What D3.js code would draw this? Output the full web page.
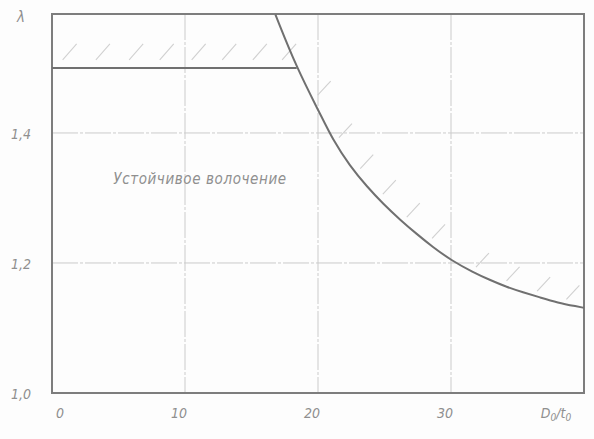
<!DOCTYPE html>
<html>
<head>
<meta charset="utf-8">
<script src="https://cdn.jsdelivr.net/npm/d3@7/dist/d3.min.js"></script>
<style>
  html, body { margin: 0; padding: 0; background: #fdfdfd; }
  svg { display: block; }
  text { font-family: "DejaVu Sans Condensed", "DejaVu Sans", sans-serif; font-style: italic; fill: #8f8f8f; }
</style>
</head>
<body>
<svg id="chart" width="594" height="439"></svg>
<script>
// Drawing limit: ratio D0/t0 against draw ratio λ
const xTicks = [0, 10, 20, 30];
const yTicks = [1.0, 1.2, 1.4];
const yTickLabels = ["1,0", "1,2", "1,4"];
const boundaryX = [16.8, 18.4, 20.15, 21.1, 22.4, 23.7, 24.9, 26.2, 27.4, 28.6, 30.1, 31.65, 32.9, 34.2, 35.4, 36.7, 38.0, 39.5, 40];
const boundaryY = [1.582, 1.5, 1.43, 1.39, 1.349, 1.317, 1.291, 1.266, 1.245, 1.225, 1.203, 1.186, 1.174, 1.163, 1.155, 1.147, 1.139, 1.133, 1.131];
const limitLambda = 1.5;
const limitEndX = 18.4;
const bandHatchX = [0.8, 3.3, 5.8, 8.1, 10.5, 12.8, 15.1, 17.3];
const curveHatchX = [19.6, 21.2, 22.8, 24.5, 26.3, 28.2, 31.5, 33.8, 36.1, 38.3];
const regionLabel = "Устойчивое волочение";

const svg = d3.select("#chart");
const plotLeft = 52, plotRight = 584, plotTop = 14, plotBottom = 393;
const x = d3.scaleLinear().domain([0, 40]).range([plotLeft, plotRight]);
const y = d3.scaleLinear().domain([1.0, 1.583]).range([plotBottom, plotTop]);

// grid
const grid = svg.append("g").attr("stroke", "#cbcbcb").attr("stroke-width", 1).attr("stroke-dasharray", "26,2,3,2");
xTicks.filter(d => d > 0).forEach(d => {
  grid.append("line").attr("x1", x(d)).attr("x2", x(d)).attr("y1", plotTop).attr("y2", plotBottom);
});
yTicks.filter(d => d > 1.0).forEach(d => {
  grid.append("line").attr("x1", plotLeft).attr("x2", plotRight).attr("y1", y(d)).attr("y2", y(d));
});

// hatching in the top band
const hatch = svg.append("g").attr("stroke", "#d0d0d0").attr("stroke-width", 1.1);
bandHatchX.forEach(d => {
  hatch.append("line")
    .attr("x1", x(d)).attr("y1", y(limitLambda) - 8)
    .attr("x2", x(d) + 14).attr("y2", y(limitLambda) - 24);
});

// hatching beyond the boundary curve
const curveY = d3.scaleLinear().domain(boundaryX).range(boundaryY);
curveHatchX.forEach(d => {
  const px = x(d), py = y(curveY(d));
  hatch.append("line")
    .attr("x1", px + 5).attr("y1", py - 4)
    .attr("x2", px + 18).attr("y2", py - 18);
});

// frame
svg.append("rect")
  .attr("x", plotLeft).attr("y", plotTop)
  .attr("width", plotRight - plotLeft).attr("height", plotBottom - plotTop)
  .attr("fill", "none").attr("stroke", "#7d7d7d").attr("stroke-width", 2);

// limit line λ = 1.5
svg.append("line")
  .attr("x1", x(0)).attr("x2", x(limitEndX))
  .attr("y1", y(limitLambda)).attr("y2", y(limitLambda))
  .attr("stroke", "#707070").attr("stroke-width", 2);

// boundary curve
const pts = boundaryX.map((d, i) => [d, boundaryY[i]]);
svg.append("path")
  .datum(pts)
  .attr("d", d3.line().x(d => x(d[0])).y(d => y(d[1])).curve(d3.curveBasis))
  .attr("fill", "none").attr("stroke", "#707070").attr("stroke-width", 2);

// tick labels
xTicks.forEach(d => {
  svg.append("text").attr("x", x(d) + (d === 0 ? 8 : -6)).attr("y", 418)
    .attr("text-anchor", "middle").attr("font-size", 14).text(d);
});
svg.append("text").attr("x", 556).attr("y", 418).attr("text-anchor", "middle")
  .attr("font-size", 14).html("D<tspan font-size='10' dy='3'>0</tspan><tspan dy='-3'>/t</tspan><tspan font-size='10' dy='3'>0</tspan>");

yTicks.forEach((d, i) => {
  svg.append("text").attr("x", 21).attr("y", y(d) + 6)
    .attr("text-anchor", "middle").attr("font-size", 14).text(yTickLabels[i]);
});
svg.append("text").attr("x", 21).attr("y", 22).attr("text-anchor", "middle")
  .attr("font-size", 15).text("λ");

svg.append("text").attr("x", 200).attr("y", 184).attr("text-anchor", "middle")
  .attr("font-size", 15).attr("letter-spacing", 0.6).text(regionLabel);
</script>
</body>
</html>
